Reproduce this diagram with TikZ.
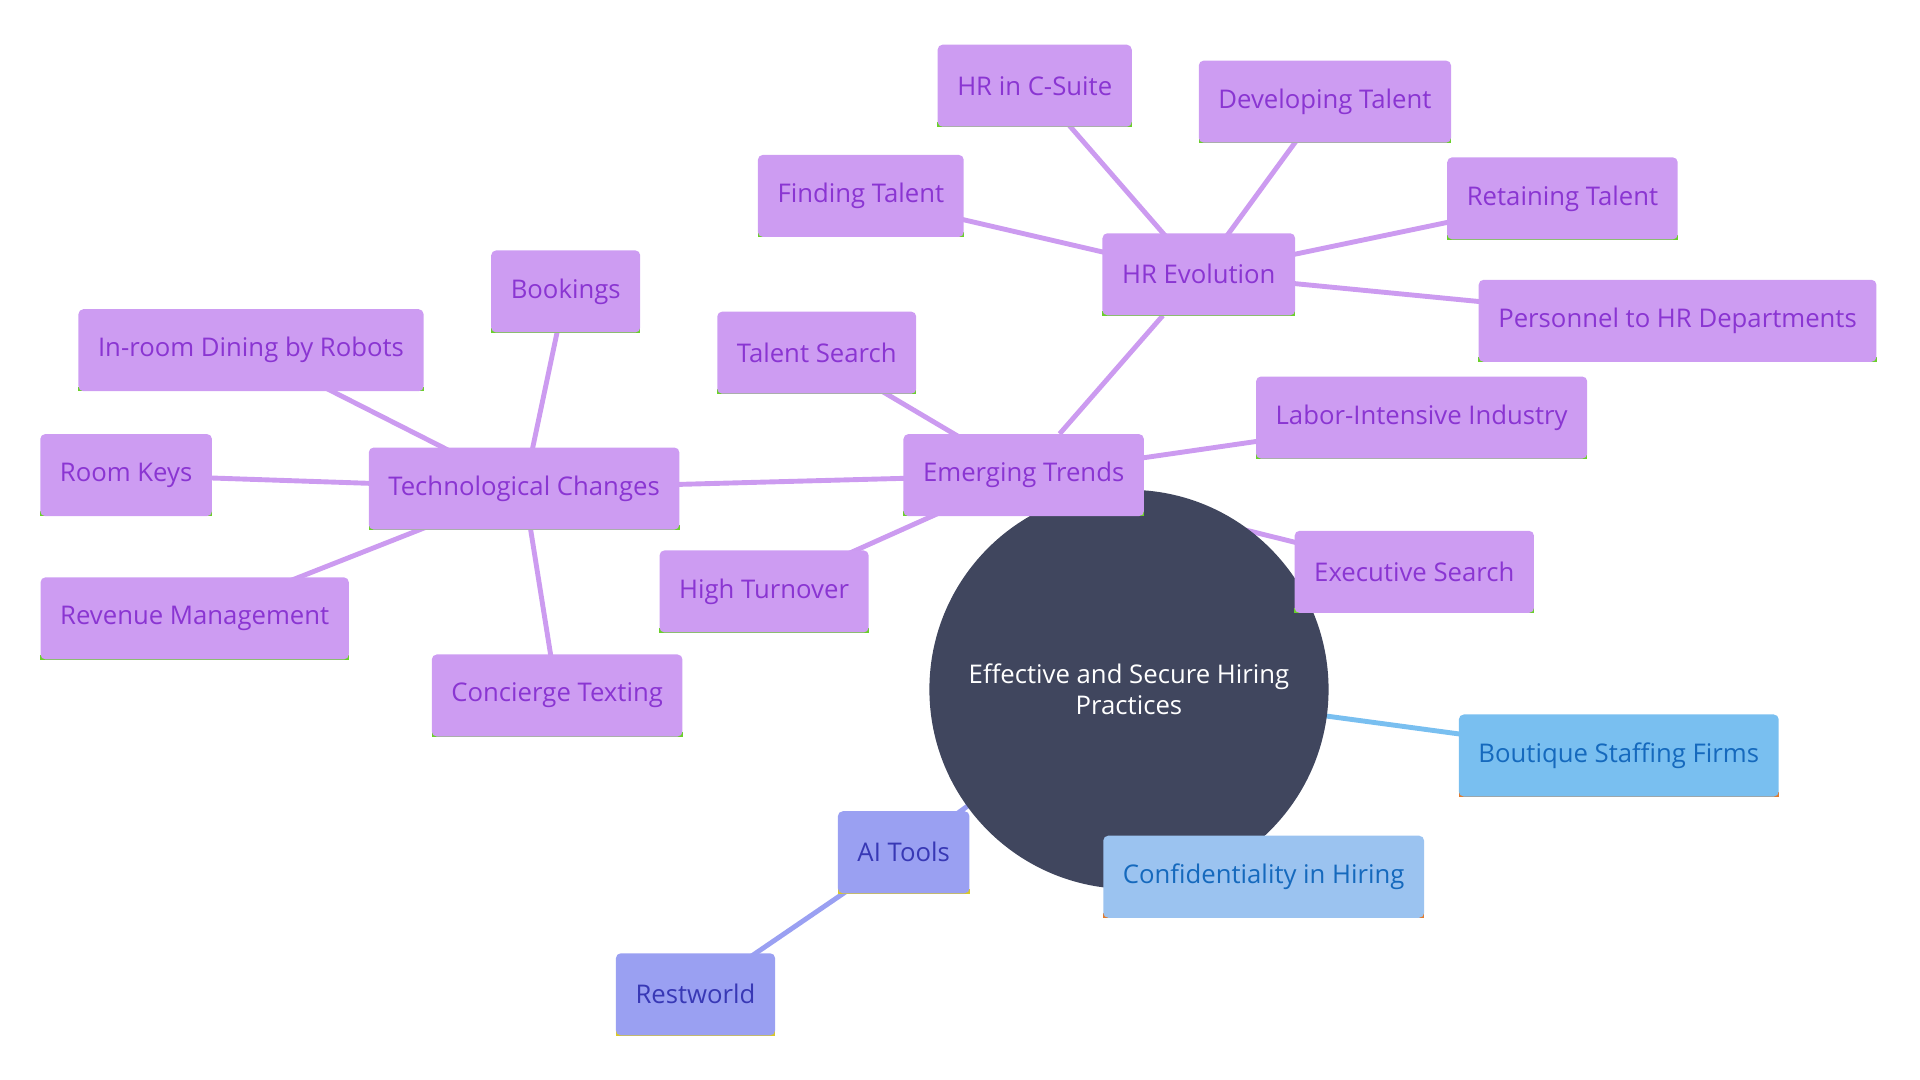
\documentclass[tikz,border=0pt]{standalone}
\usepackage{fontspec}
\setmainfont{Open Sans}
\usetikzlibrary{backgrounds}
\definecolor{pfill}{HTML}{CD9CF2}
\definecolor{ptext}{HTML}{8A35D2}
\definecolor{pline}{HTML}{CC9BF0}
\definecolor{gstripe}{HTML}{6AD02A}
\definecolor{bfill}{HTML}{79BFF0}
\definecolor{btext}{HTML}{1569BD}
\definecolor{ostripe}{HTML}{E07B30}
\definecolor{cfill}{HTML}{9BC3F0}
\definecolor{afill}{HTML}{9AA0F2}
\definecolor{atext}{HTML}{3838B5}
\definecolor{ystripe}{HTML}{D8C82A}
\definecolor{hub}{HTML}{40465E}
\tikzset{
  box/.style={fill=#1, rounded corners=4pt, minimum height=67pt, inner xsep=16pt,
    font=\fontsize{21pt}{25pt}\selectfont},
  pbox/.style={box=pfill, text=ptext, append after command={
    \pgfextra{\fill[gstripe] (\tikzlastnode.south west) rectangle ([yshift=4pt]\tikzlastnode.south east);}}},
  bbox/.style={box=#1, text=btext, append after command={
    \pgfextra{\fill[ostripe] (\tikzlastnode.south west) rectangle ([yshift=4pt]\tikzlastnode.south east);}}},
  abox/.style={box=afill, text=atext, append after command={
    \pgfextra{\fill[ystripe] (\tikzlastnode.south west) rectangle ([yshift=4pt]\tikzlastnode.south east);}}},
  edge/.style={line width=4pt, draw=#1},
}
\begin{document}
\begin{tikzpicture}[x=1pt,y=-1pt]
\useasboundingbox (0,0) rectangle (1568,882);
\node[circle, fill=hub, minimum size=326pt, text=white, align=center, font=\fontsize{21pt}{25pt}\selectfont] (hub) at (922,563) {Effective and Secure Hiring\\Practices};
\node[pbox] (et) at (836,388) {Emerging Trends};
\node[pbox] (hr) at (979,224) {HR Evolution};
\node[pbox] (cs) at (845,70) {HR in C-Suite};
\node[pbox] (dt) at (1082,83) {Developing Talent};
\node[pbox] (ft) at (703,160) {Finding Talent};
\node[pbox] (rt) at (1276,162) {Retaining Talent};
\node[pbox] (ph) at (1370,262) {Personnel to HR Departments};
\node[pbox] (ts) at (667,288) {Talent Search};
\node[pbox] (li) at (1161,341) {Labor-Intensive Industry};
\node[pbox] (es) at (1155,467) {Executive Search};
\node[pbox] (ht) at (624,483) {High Turnover};
\node[pbox] (tc) at (428,399) {Technological Changes};
\node[pbox] (bk) at (462,238) {Bookings};
\node[pbox] (id) at (205,286) {In-room Dining by Robots};
\node[pbox] (rk) at (103,388) {Room Keys};
\node[pbox] (rm) at (159,505) {Revenue Management};
\node[pbox] (ct) at (455,568) {Concierge Texting};
\node[bbox=bfill] (bs) at (1322,617) {Boutique Staffing Firms};
\node[bbox=cfill] (ch) at (1032,716) {Confidentiality in Hiring};
\node[abox] (ai) at (738,696) {AI Tools};
\node[abox] (rw) at (568,812) {Restworld};
\begin{scope}[on background layer]
\draw[edge=pline] (hub) -- (et);
\draw[edge=pline] (et) -- (hr);
\foreach \n in {cs,dt,ft,rt,ph} \draw[edge=pline] (hr.center) -- (\n.center);
\foreach \n in {ts,li,es,ht,tc} \draw[edge=pline] (et.center) -- (\n.center);
\foreach \n in {bk,id,rk,rm,ct} \draw[edge=pline] (tc.center) -- (\n.center);
\draw[edge=bfill] (hub.center) -- (bs.center);
\draw[edge=cfill] (hub.center) -- (ch.center);
\draw[edge=afill] (hub.center) -- (ai.center);
\draw[edge=afill] (ai.center) -- (rw.center);
\end{scope}
\end{tikzpicture}
\end{document}
